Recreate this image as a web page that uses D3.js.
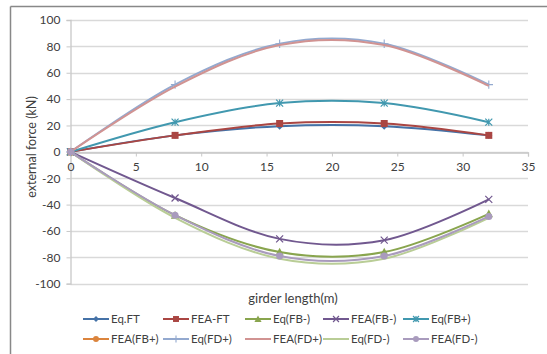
<!DOCTYPE html>
<html><head><meta charset="utf-8">
<script src="https://cdn.jsdelivr.net/npm/d3@7"></script>
<style>body{margin:0;background:#fff}svg{display:block}text{font-family:Lato,"Open Sans",sans-serif;fill:#404040}</style>
</head><body><svg id="c" width="547" height="354"></svg>
<script>
const xValues = [0, 8, 16, 24, 32];
const seriesNames = ["Eq.FT","FEA-FT","Eq(FB-)","FEA(FB-)","Eq(FB+)","FEA(FB+)","Eq(FD+)","FEA(FD+)","Eq(FD-)","FEA(FD-)"];
const eqFT   = [0, 12.5, 19.5, 19.5, 12.5];
const feaFT  = [0, 12.5, 21.5, 21.5, 12.5];
const eqFBm  = [0, -48, -76, -76, -47];
const feaFBm = [0, -35, -66, -67, -36];
const eqFBp  = [0, 22.5, 37, 37, 22.5];
const feaFBp = [0, null, null, null, null];
const eqFDp  = [0, 51, 82, 82, 51];
const feaFDp = [0, 49.5, 81, 81, 50];
const eqFDm  = [0, -50, -81, -81, -50];
const feaFDm = [0, -48, -79, -79, -49];
const yTicks = [-100,-80,-60,-40,-20,0,20,40,60,80,100];
const xTicks = [0,5,10,15,20,25,30,35];

const seriesValues = [eqFT,feaFT,eqFBm,feaFBm,eqFBp,feaFBp,eqFDp,feaFDp,eqFDm,feaFDm];
const colors = ["#4572a7","#aa4643","#89a54e","#71588f","#4198af","#db843d","#93a9cf","#d19392","#b9cd96","#a99bbd"];
const markers = ["diamond","square","triangle","x","star","circle","plus","none","none","circle"];

const svg = d3.select("#c");
// chart border
svg.append("line").attr("x1",10.5).attr("x2",547).attr("y1",6.5).attr("y2",6.5).attr("stroke","#888").attr("stroke-width",1.5);
svg.append("line").attr("x1",10.5).attr("x2",10.5).attr("y1",6.5).attr("y2",354).attr("stroke","#888").attr("stroke-width",1.5);

const x = d3.scaleLinear().domain([0,35]).range([70.5,528]);
const y = d3.scaleLinear().domain([-100,100]).range([283.7,20]);

// gridlines
svg.append("g").selectAll("line").data(yTicks).join("line")
  .attr("x1",x(0)).attr("x2",x(35)).attr("y1",d=>Math.round(y(d))+0.5).attr("y2",d=>Math.round(y(d))+0.5)
  .attr("stroke","#d9d9d9").attr("stroke-width",1.3);

const fmt = d => String(d);
// y axis
const ya = svg.append("g").attr("transform",`translate(${x(0)},0)`)
  .call(d3.axisLeft(y).tickValues(yTicks).tickSize(4).tickPadding(6).tickFormat(fmt));
ya.select(".domain").attr("stroke","#c8c8c8").attr("stroke-width",1.3);
ya.selectAll(".tick line").attr("stroke","#c8c8c8");
ya.selectAll("text").attr("font-size",12).style("fill","#404040").attr("font-family","Lato");

// x axis at y=0
const xa = svg.append("g").attr("transform",`translate(0,${Math.round(y(0))+0.5})`)
  .call(d3.axisBottom(x).tickValues(xTicks).tickSize(4).tickPadding(6).tickFormat(fmt));
xa.select(".domain").attr("stroke","#c8c8c8").attr("stroke-width",1.3);
xa.selectAll(".tick line").attr("stroke","#c8c8c8");
xa.selectAll("text").attr("font-size",12).style("fill","#404040").attr("font-family","Lato");

// labels
svg.append("text").attr("transform","translate(36,147) rotate(-90)").attr("text-anchor","middle")
  .attr("font-size",12.5).text("external force (kN)");
svg.append("text").attr("x",293).attr("y",303).attr("text-anchor","middle").attr("font-size",13).text("girder length(m)");

const line = d3.line().defined(d=>d[1]!==null).x(d=>x(d[0])).y(d=>y(d[1])).curve(d3.curveCatmullRom.alpha(0));

function marker(g, type, color, cx, cy, k) {
  const s = 3.5*k;
  if (type==="diamond") g.append("path").attr("d",`M${cx},${cy-s}L${cx+s},${cy}L${cx},${cy+s}L${cx-s},${cy}Z`).attr("fill",color);
  else if (type==="square") g.append("rect").attr("x",cx-s).attr("y",cy-s).attr("width",2*s).attr("height",2*s).attr("fill",color);
  else if (type==="triangle") g.append("path").attr("d",`M${cx},${cy-1.2*s}L${cx+1.2*s},${cy+s}L${cx-1.2*s},${cy+s}Z`).attr("fill",color);
  else if (type==="x") g.append("path").attr("d",`M${cx-s},${cy-s}L${cx+s},${cy+s}M${cx-s},${cy+s}L${cx+s},${cy-s}`).attr("stroke",color).attr("stroke-width",1.2);
  else if (type==="star") g.append("path").attr("d",`M${cx-s},${cy-s}L${cx+s},${cy+s}M${cx-s},${cy+s}L${cx+s},${cy-s}M${cx},${cy-s}L${cx},${cy+s}`).attr("stroke",color).attr("stroke-width",1.2);
  else if (type==="plus") g.append("path").attr("d",`M${cx-1.2*s},${cy}L${cx+1.2*s},${cy}M${cx},${cy-1.2*s}L${cx},${cy+1.2*s}`).attr("stroke",color).attr("stroke-width",1.1);
  else if (type==="circle") g.append("circle").attr("cx",cx).attr("cy",cy).attr("r",s).attr("fill",color);
}

seriesValues.forEach((vals,i)=>{
  const pts = xValues.map((xv,j)=>[xv, vals[j]]);
  const g = svg.append("g");
  g.append("path").datum(pts).attr("d",line).attr("fill","none").attr("stroke",colors[i]).attr("stroke-width",2);
  pts.filter(p=>p[1]!==null).forEach(p=>marker(g, markers[i], colors[i], x(p[0]), y(p[1]), 1));
});

// legend
const legendCols = [83,163,245,323,403];
const legendRows = [319,339];
seriesNames.forEach((name,i)=>{
  const lx = legendCols[i%5], ly = legendRows[Math.floor(i/5)];
  const g = svg.append("g");
  g.append("line").attr("x1",lx).attr("x2",lx+26).attr("y1",ly).attr("y2",ly).attr("stroke",colors[i]).attr("stroke-width",2);
  marker(g, markers[i], colors[i], lx+13, ly, 0.85);
  g.append("text").attr("x",lx+28).attr("y",ly+4.3).attr("font-size",11.5).text(name);
});
</script></body></html>
